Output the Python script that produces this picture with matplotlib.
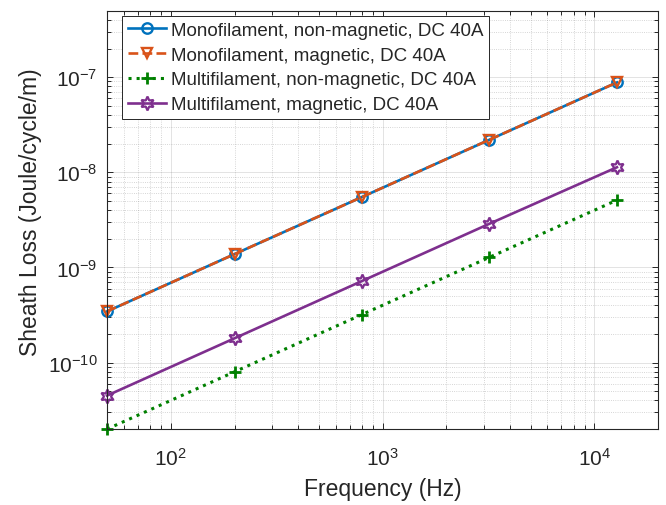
import numpy as np
import matplotlib
matplotlib.use('Agg')
import matplotlib.pyplot as plt
from matplotlib.ticker import NullFormatter

plt.rcParams['font.family'] = ['Liberation Sans', 'DejaVu Sans']
plt.rcParams['mathtext.default'] = 'regular'

# Sheath loss per cycle vs. frequency, DC 40 A
freq = [50, 200, 800, 3200, 12800]
mono_nonmag = [3.45e-10, 1.38e-9, 5.5e-9, 2.2e-8, 8.8e-8]
mono_mag = [3.45e-10, 1.38e-9, 5.5e-9, 2.2e-8, 8.8e-8]
multi_nonmag = [2.0e-11, 8.0e-11, 3.2e-10, 1.28e-9, 5.1e-9]
multi_mag = [4.5e-11, 1.8e-10, 7.2e-10, 2.88e-9, 1.13e-8]

labels = ['Monofilament, non-magnetic, DC 40A',
          'Monofilament, magnetic, DC 40A',
          'Multifilament, non-magnetic, DC 40A',
          'Multifilament, magnetic, DC 40A']

xticks = [1e2, 1e3, 1e4]
yticks = [1e-10, 1e-9, 1e-8, 1e-7]

txt = '#262626'
fig = plt.figure(figsize=(6.66, 5.06), dpi=100)
ax = fig.add_axes([0.1607, 0.150, 0.8273, 0.827])

ax.plot(freq, mono_nonmag, '-o', color='#0072BD', lw=1.9, ms=7.5, mew=1.7,
        mfc='none', label=labels[0], clip_on=False)
ax.plot(freq, mono_mag, '--v', color='#D95319', lw=1.9, ms=7.5, mew=1.7,
        mfc='none', label=labels[1], clip_on=False)
ax.plot(freq, multi_nonmag, ':+', color='#008000', lw=2.2, ms=9, mew=2.0,
        label=labels[2], clip_on=False)
ax.plot(freq, multi_mag, '-', marker=(6, 1, 0), color='#7E2F8E', lw=1.9,
        ms=10, mew=1.6, mfc='none', label=labels[3], clip_on=False)

ax.set_xscale('log')
ax.set_yscale('log')
ax.set_xlim(50, 2e4)
ax.set_ylim(2e-11, 5e-7)
ax.set_xticks(xticks)
ax.set_yticks(yticks)
ax.xaxis.set_minor_formatter(NullFormatter())
ax.yaxis.set_minor_formatter(NullFormatter())

ax.grid(True, which='major', color=txt, alpha=0.15, lw=0.6, ls='-')
ax.grid(True, which='minor', color=txt, alpha=0.25, lw=0.6, ls=':')
ax.set_axisbelow(True)

for s in ax.spines.values():
    s.set_color(txt)
    s.set_linewidth(0.8)
ax.tick_params(which='both', direction='in', top=True, right=True,
               color=txt, labelcolor=txt, width=0.7)
ax.tick_params(which='major', length=4.5, labelsize=15)
ax.tick_params(axis='x', which='major', pad=13)
ax.tick_params(axis='y', which='major', pad=7)
ax.tick_params(which='minor', length=2.8)

ax.set_xlabel('Frequency (Hz)', fontsize=16.5, color=txt, labelpad=6)
ax.set_ylabel('Sheath Loss (Joule/cycle/m)', fontsize=16.5, color=txt)
ax.yaxis.set_label_coords(-0.118, 0.52)

leg = ax.legend(loc='upper left', bbox_to_anchor=(0.028, 0.987),
                borderaxespad=0, fontsize=13.5, fancybox=False,
                framealpha=1, edgecolor=txt, handlelength=2.0,
                handletextpad=0.3, labelspacing=0.41, borderpad=0.3)
leg.get_frame().set_linewidth(0.7)
for t in leg.get_texts():
    t.set_color(txt)

fig.savefig('out.png', dpi=100)
